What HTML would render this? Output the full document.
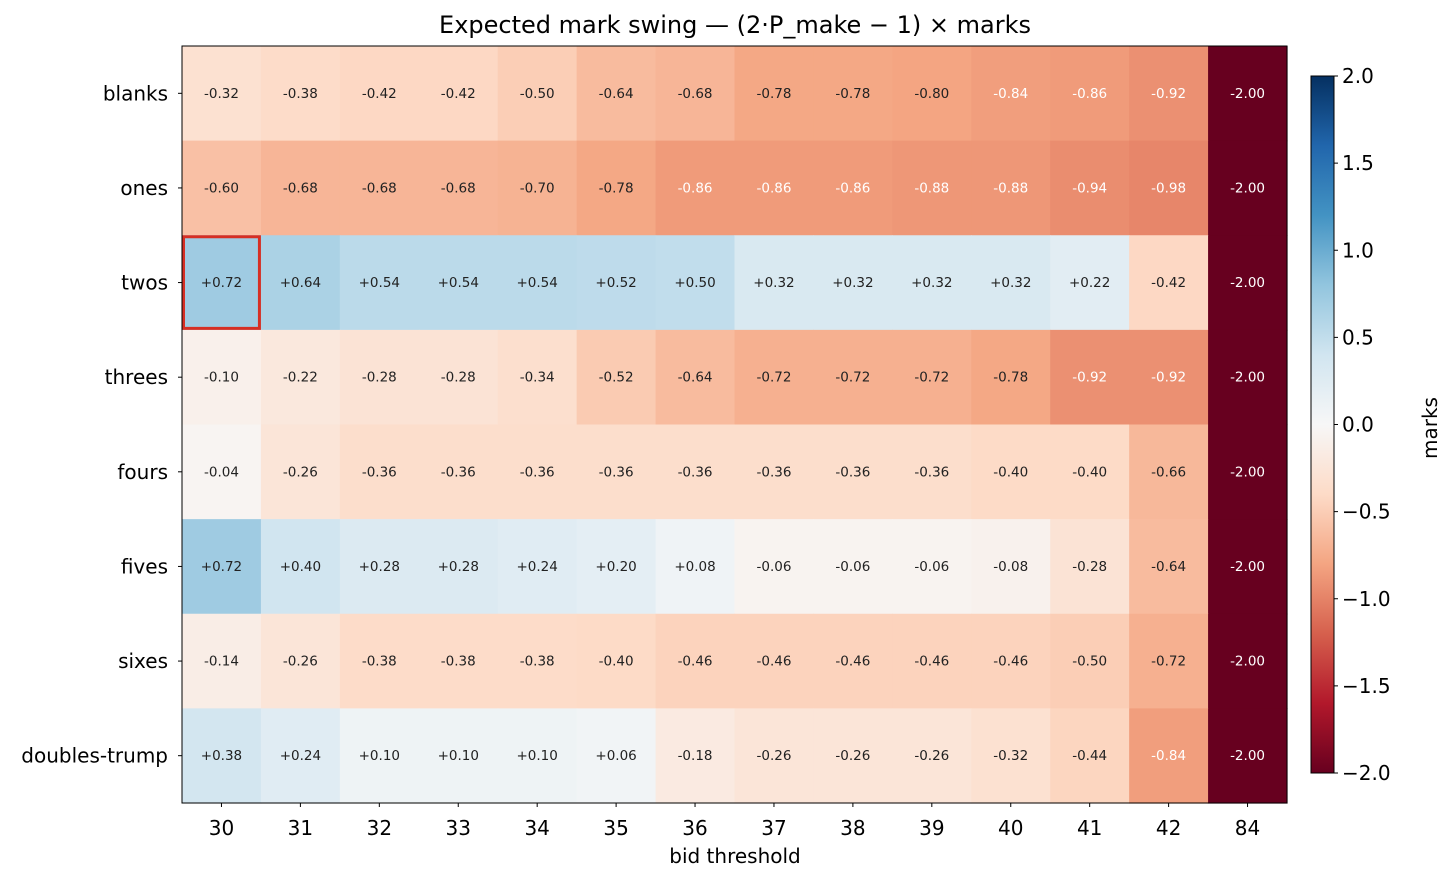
<!DOCTYPE html>
<html><head><meta charset="utf-8"><style>
body{margin:0;background:#fff;}
svg text{font-family:"DejaVu Sans","Liberation Sans",sans-serif;}
</style></head><body>
<svg id="s" width="1454" height="882" xmlns="http://www.w3.org/2000/svg"></svg>
<script>
const rows=["blanks","ones","twos","threes","fours","fives","sixes","doubles-trump"];
const cols=[30,31,32,33,34,35,36,37,38,39,40,41,42,84];
const D=[
[-0.32,-0.38,-0.42,-0.42,-0.50,-0.64,-0.68,-0.78,-0.78,-0.80,-0.84,-0.86,-0.92,-2],
[-0.60,-0.68,-0.68,-0.68,-0.70,-0.78,-0.86,-0.86,-0.86,-0.88,-0.88,-0.94,-0.98,-2],
[0.72,0.64,0.54,0.54,0.54,0.52,0.50,0.32,0.32,0.32,0.32,0.22,-0.42,-2],
[-0.10,-0.22,-0.28,-0.28,-0.34,-0.52,-0.64,-0.72,-0.72,-0.72,-0.78,-0.92,-0.92,-2],
[-0.04,-0.26,-0.36,-0.36,-0.36,-0.36,-0.36,-0.36,-0.36,-0.36,-0.40,-0.40,-0.66,-2],
[0.72,0.40,0.28,0.28,0.24,0.20,0.08,-0.06,-0.06,-0.06,-0.08,-0.28,-0.64,-2],
[-0.14,-0.26,-0.38,-0.38,-0.38,-0.40,-0.46,-0.46,-0.46,-0.46,-0.46,-0.50,-0.72,-2],
[0.38,0.24,0.10,0.10,0.10,0.06,-0.18,-0.26,-0.26,-0.26,-0.32,-0.44,-0.84,-2]];
const C=[[103,0,31],[178,24,43],[214,96,77],[244,165,130],[253,219,199],[247,247,247],[209,229,240],[146,197,222],[67,147,195],[33,102,172],[5,48,97]];
function col(v){let t=(v+2)/4;t=Math.max(0,Math.min(1,t));let p=t*10,i=Math.min(9,Math.floor(p)),f=p-i;
return "rgb("+C[i].map((c,k)=>Math.round(c+(C[i+1][k]-c)*f)).join(",")+")";}
let h="";
const X0=182,X1=1287,Y0=46,Y1=803,cw=(X1-X0)/14,rh=(Y1-Y0)/8;
h+=`<text x="735" y="33" font-size="24" text-anchor="middle">Expected mark swing — (2·P_make − 1) × marks</text>`;
D.forEach((r,i)=>r.forEach((v,j)=>{const x=X0+j*cw,y=Y0+i*rh;
h+=`<rect x="${x}" y="${y}" width="${cw+0.6}" height="${rh+0.6}" fill="${col(v)}"/>`;
const s=(v>0?"+":"")+v.toFixed(2);
h+=`<text x="${x+cw/2}" y="${y+rh/2+4.5}" font-size="13.5" text-anchor="middle" fill="${v<=-0.84?'#fff':'#222'}">${s}</text>`;}));
h+=`<rect x="${X0+1.5}" y="${Y0+2*rh+1.5}" width="${cw-3}" height="${rh-3}" fill="none" stroke="#d62f24" stroke-width="3"/>`;
h+=`<rect x="${X0}" y="${Y0}" width="${X1-X0}" height="${Y1-Y0}" fill="none" stroke="#000" stroke-width="1"/>`;
rows.forEach((r,i)=>{const y=Y0+(i+0.5)*rh;h+=`<line x1="${X0}" x2="${X0-4}" y1="${y}" y2="${y}" stroke="#000"/><text x="${X0-14}" y="${y+7}" font-size="20" text-anchor="end">${r}</text>`;});
cols.forEach((c,j)=>{const x=X0+(j+0.5)*cw;h+=`<line x1="${x}" x2="${x}" y1="${Y1}" y2="${Y1+4}" stroke="#000"/><text x="${x}" y="${Y1+32}" font-size="20" text-anchor="middle">${c}</text>`;});
h+=`<text x="735" y="863" font-size="20" text-anchor="middle">bid threshold</text>`;
const cx=1311,cW=23,cy0=76,cy1=773;
h+=`<defs><linearGradient id="g" x1="0" y1="1" x2="0" y2="0">`;
C.forEach((c,i)=>h+=`<stop offset="${i/10}" stop-color="rgb(${c.join(',')})"/>`);
h+=`</linearGradient></defs><rect x="${cx}" y="${cy0}" width="${cW}" height="${cy1-cy0}" fill="url(#g)" stroke="#000"/>`;
for(let v=-2;v<=2.001;v+=0.5){const y=cy1-(v+2)/4*(cy1-cy0);
h+=`<line x1="${cx+cW}" x2="${cx+cW+4}" y1="${y}" y2="${y}" stroke="#000"/><text x="${cx+cW+8}" y="${y+7}" font-size="20">${(v<0?"−":"")+Math.abs(v).toFixed(1)}</text>`;}
h+=`<text transform="translate(1437,428) rotate(-90)" font-size="20" text-anchor="middle">marks</text>`;
document.getElementById("s").innerHTML=h;
</script>
</body></html>
